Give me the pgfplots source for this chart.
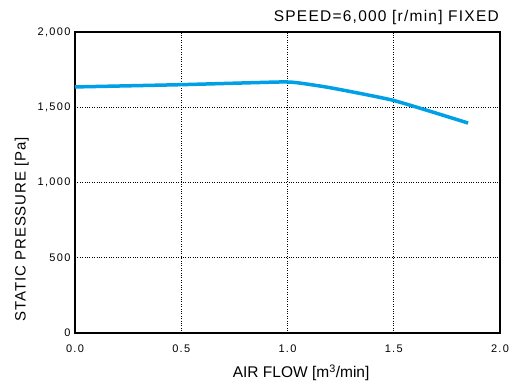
\documentclass[border=0pt]{standalone}
\usepackage{pgfplots}
\pgfplotsset{compat=1.18}
\usepackage{fontspec}
\setmainfont{Liberation Sans}
\newfontfamily\widefont{Liberation Sans}[LetterSpace=8]
\newfontfamily\ylabfont{Liberation Sans}[LetterSpace=6]
\newfontfamily\wideticks{Liberation Sans}[LetterSpace=12]
\definecolor{curve}{RGB}{0,160,230}
\begin{document}
\begin{tikzpicture}
\begin{axis}[
  name=ax,
  scale only axis,
  width=425pt, height=301pt,
  xmin=0, xmax=2, ymin=0, ymax=2000,
  xtick={0,0.5,1,1.5,2},
  ytick={0,500,1000,1500,2000},
  xticklabels={0.0,0.5,1.0,1.5,2.0},
  yticklabels={0,500,{1,000},{1,500},{2,000}},
  grid=major,
  major grid style={black, dotted, line width=0.6pt},
  major tick length=0pt,
  axis line style={black, line width=1.6pt},
  tick label style={font=\wideticks\fontsize{11}{13}\selectfont},
  xticklabel style={yshift=-8pt},
  yticklabel style={xshift=-1pt},
  xlabel={AIR FLOW [m\textsuperscript{3}/min]},
  ylabel={STATIC PRESSURE [Pa]},
  xlabel style={font=\fontsize{15.5}{17}\selectfont, at={(ticklabel cs:0.532)}, yshift=-6pt},
  ylabel style={font=\ylabfont\fontsize{15}{17}\selectfont, at={(ticklabel cs:0.345)}, yshift=2pt},
  clip=false,
]
\addplot[curve, line width=3.5pt, smooth, tension=0.3] coordinates {
  (0,1635) (0.5,1650) (0.97,1668) (1.05,1662) (1.2,1630) (1.5,1545) (1.85,1395)
};
\node[anchor=south east, font=\widefont\fontsize{15.5}{17}\selectfont, inner sep=0pt] at ([xshift=-1pt,yshift=7pt]rel axis cs:1,1) {SPEED=6,000 [r/min] FIXED};
\end{axis}
\path ([xshift=-75pt,yshift=-52pt]ax.south west) rectangle ([xshift=23pt,yshift=32pt]ax.north east);
\end{tikzpicture}
\end{document}
